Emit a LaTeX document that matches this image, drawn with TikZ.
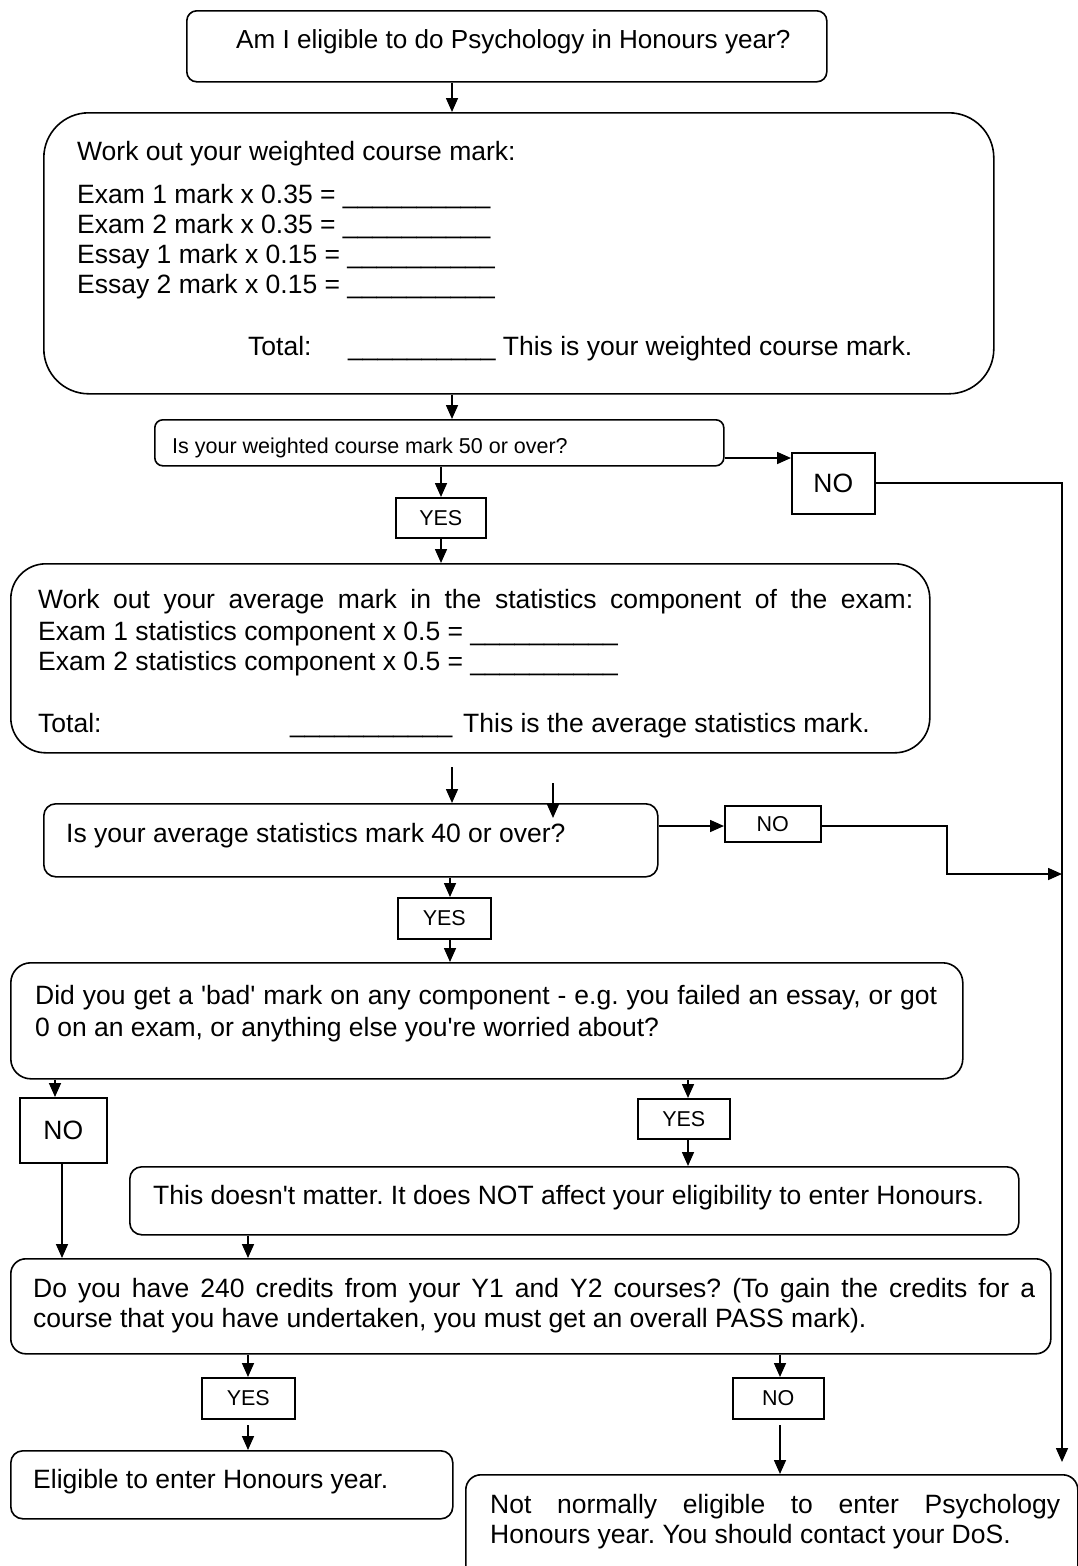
\documentclass[tikz,border=0pt]{standalone}
\usepackage{fontspec}
\setmainfont{Liberation Sans}
\usetikzlibrary{arrows.meta}
\newcommand\fbig{\fontsize{26.5}{30}\selectfont}
\newcommand\ftop{\fontsize{26.1}{30}\selectfont}
\newcommand\fsmall{\fontsize{21.5}{26}\selectfont}
\newcommand\blankten{\_\_\_\_\_\_\_\_\_\_}
\newcommand\sq{\textquotesingle}
\frenchspacing
\begin{document}
\begin{tikzpicture}[x=1pt,y=-1pt,
  box/.style={draw, line width=1.6pt, rounded corners=#1, anchor=north west, inner sep=0pt},
  box/.default=10pt,
  lbl/.style={draw, line width=1.6pt, anchor=north west, inner sep=0pt, font=\fsmall},
  lblbig/.style={lbl, font=\fbig},
  txt/.style={anchor=base west, inner sep=0pt, font=\fbig},
  txts/.style={anchor=base west, inner sep=0pt, font=\fsmall},
  arr/.style={line width=1.6pt, -{Triangle[length=14pt,width=12pt]}},
  ln/.style={line width=1.6pt}]
\useasboundingbox (0,0) rectangle (1078,1566);

% ---------- boxes ----------
\node[box=10pt, minimum width=640, minimum height=71] (b1) at (186,10) {};
\node[txt, font=\ftop] (t1) at (236,48) {Am I eligible to do Psychology in Honours year?};

\node[box=45pt, minimum width=950, minimum height=281] (b2) at (43,112) {};
\node[txt] (t2a) at (77,160) {Work out your weighted course mark:};
\node[txt] (t2b) at (77,203) {Exam 1 mark x 0.35 = \blankten};
\node[txt] (t2c) at (77,233) {Exam 2 mark x 0.35 = \blankten};
\node[txt] (t2d) at (77,263) {Essay 1 mark x 0.15 = \blankten};
\node[txt] (t2e) at (77,293) {Essay 2 mark x 0.15 = \blankten};
\node[txt] (t2f) at (248,355) {Total:};
\node[txt] (t2g) at (348,355) {\blankten{} This is your weighted course mark.};

\node[box=8pt, minimum width=569, minimum height=46] (b3) at (154,419) {};
\node[txts] (t3) at (172,453) {Is your weighted course mark 50 or over?};

\node[lblbig, minimum width=83, minimum height=61] (no1) at (791,452) {NO};
\node[lbl, minimum width=90, minimum height=40] (yes1) at (395,497) {YES};

\node[box=35pt, minimum width=919, minimum height=189] (b4) at (10,563) {};
\node[txt] (t4a) at (38,608) {\makebox[875pt][s]{Work out your average mark in the statistics component of the exam:}};
\node[txt] (t4b) at (38,640) {Exam 1 statistics component x 0.5 = \blankten};
\node[txt] (t4c) at (38,670) {Exam 2 statistics component x 0.5 = \blankten};
\node[txt] (t4d) at (38,732) {Total:};
\node[txt] (t4e) at (290,732) {\blankten\_};
\node[txt] (t4f) at (463,732) {This is the average statistics mark.};

\node[box=12pt, minimum width=614, minimum height=73] (b5) at (43,803) {};
\node[txt] (t5) at (66,842) {Is your average statistics mark 40 or over?};

\node[lbl, minimum width=96, minimum height=36] (no2) at (724,805) {NO};
\node[lbl, minimum width=93, minimum height=41] (yes2) at (397,897) {YES};

\node[box=20pt, minimum width=952, minimum height=116] (b6) at (10,962) {};
\node[txt] (t6a) at (35,1004) {\makebox[902pt][s]{Did you get a \sq bad\sq{} mark on any component - e.g. you failed an essay, or got}};
\node[txt] (t6b) at (35,1036) {0 on an exam, or anything else you\sq re worried about?};

\node[lblbig, minimum width=87, minimum height=65] (no3) at (19,1097) {NO};
\node[lbl, minimum width=92, minimum height=40] (yes3) at (637,1098) {YES};

\node[box=12pt, minimum width=889, minimum height=68] (b7) at (129,1166) {};
\node[txt] (t7) at (153,1204) {This doesn\sq t matter. It does NOT affect your eligibility to enter Honours.};

\node[box=15pt, minimum width=1040, minimum height=95] (b8) at (10,1258) {};
\node[txt] (t8a) at (33,1297) {\makebox[1002pt][s]{Do you have 240 credits from your Y1 and Y2 courses? (To gain the credits for a}};
\node[txt] (t8b) at (33,1327) {course that you have undertaken, you must get an overall PASS mark).};

\node[lbl, minimum width=93, minimum height=41] (yes4) at (201,1377) {YES};
\node[lbl, minimum width=91, minimum height=41] (no4) at (732,1377) {NO};

\node[box=12pt, minimum width=442, minimum height=68] (b9) at (10,1450) {};
\node[txt] (t9) at (33,1488) {Eligible to enter Honours year.};

\node[box=15pt, minimum width=612, minimum height=140] (b10) at (465,1474) {};
\node[txt] (t10a) at (490,1513) {\makebox[570pt][s]{Not normally eligible to enter Psychology}};
\node[txt] (t10b) at (490,1543) {Honours year. You should contact your DoS.};

% ---------- helper coordinates ----------
\coordinate (x452) at (452,0);
\coordinate (x441) at (441,0);
\coordinate (x450) at (450,0);
\coordinate (x55) at (55,0);
\coordinate (x62) at (62,0);
\coordinate (x688) at (688,0);
\coordinate (x248) at (248,0);
\coordinate (x780) at (780,0);
\coordinate (y458) at (0,458);
\coordinate (y483) at (0,483);
\coordinate (y826) at (0,826);
\coordinate (s1) at (452,767);
\coordinate (s2) at (553,783);
\coordinate (s2e) at (553,818);
\coordinate (k1) at (947,826);
\coordinate (jn) at (1062,874);
\coordinate (endR) at (1062,1462);
\coordinate (s3) at (248,1425);
\coordinate (s4) at (780,1425);

% ---------- connectors ----------
\draw[arr] (b1.south -| x452) -- (b2.north -| x452);
\draw[arr] (b2.south -| x452) -- (b3.north -| x452);
\draw[arr] (b3.south -| x441) -- (yes1.north -| x441);
\draw[arr] (yes1.south -| x441) -- (b4.north -| x441);
\draw[arr] (b3.east |- y458) -- (no1.west |- y458);
\draw[arr] (no1.east |- y483) -| (endR);
\draw[arr] (s1) -- (b5.north -| s1);
\draw[arr] (s2) -- (s2e);
\draw[arr] (b5.east |- y826) -- (no2.west |- y826);
\draw[arr] (no2.east |- y826) -- (k1) |- (jn);
\draw[arr] (b5.south -| x450) -- (yes2.north -| x450);
\draw[arr] (yes2.south -| x450) -- (b6.north -| x450);
\draw[arr] (b6.south -| x55) -- (no3.north -| x55);
\draw[arr] (no3.south -| x62) -- (b8.north -| x62);
\draw[arr] (b6.south -| x688) -- (yes3.north -| x688);
\draw[arr] (yes3.south -| x688) -- (b7.north -| x688);
\draw[arr] (b7.south -| x248) -- (b8.north -| x248);
\draw[arr] (b8.south -| x248) -- (yes4.north -| x248);
\draw[arr] (s3) -- (b9.north -| s3);
\draw[arr] (b8.south -| x780) -- (no4.north -| x780);
\draw[arr] (s4) -- (b10.north -| s4);
\end{tikzpicture}
\end{document}
